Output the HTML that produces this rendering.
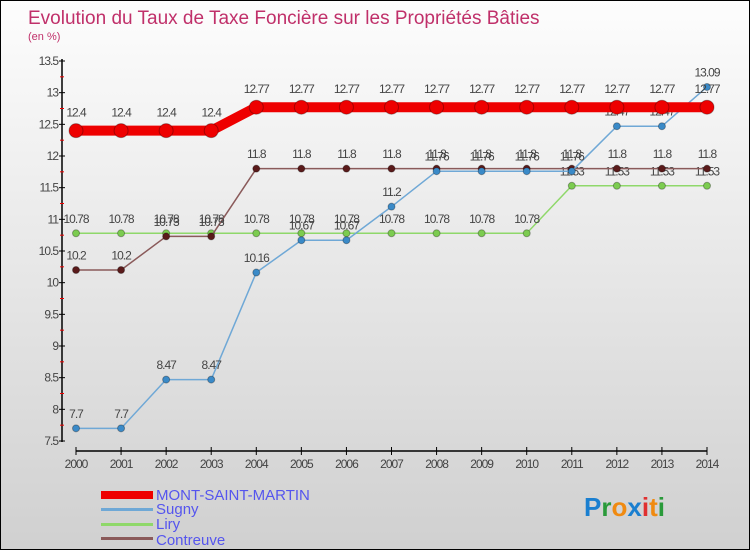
<!DOCTYPE html>
<html><head><meta charset="utf-8"><style>
body{margin:0}
#wrap{width:750px;height:550px;position:relative;overflow:hidden;box-sizing:border-box;border:1px solid #000;background:linear-gradient(#fdfdfd,#d0d0d0);font-family:"Liberation Sans",sans-serif}
</style></head><body>
<div id="wrap">
<svg id="svg" width="750" height="550" style="position:absolute;left:0;top:0">
<text x="27" y="23" font-size="19" fill="#c0306a">Evolution du Taux de Taxe Foncière sur les Propriétés Bâties</text>
<text x="27" y="39" font-size="11" fill="#c0306a">(en %)</text>
<g id="axes"></g><g id="series"></g>
<g>
<rect x="100" y="490" width="52" height="8" fill="#e00"/>
<text x="155" y="499" font-size="15" fill="#5555ee">MONT-SAINT-MARTIN</text>
<rect x="100" y="507" width="52" height="3" fill="#6fa8d6"/>
<text x="155" y="513" font-size="15" fill="#5555ee">Sugny</text>
<rect x="100" y="522" width="52" height="3" fill="#8fd86a"/>
<text x="155" y="528" font-size="15" fill="#5555ee">Liry</text>
<rect x="100" y="536" width="52" height="3" fill="#8a5a5a"/>
<text x="155" y="544" font-size="15" fill="#5555ee">Contreuve</text>
</g>
<text x="583" y="515" font-size="26" font-weight="bold"><tspan fill="#1a7fd0">P</tspan><tspan fill="#2a9a3a">r</tspan><tspan fill="#f08a10">o</tspan><tspan fill="#1a7fd0">x</tspan><tspan fill="#e03030">i</tspan><tspan fill="#f08a10">t</tspan><tspan fill="#2a9a3a">i</tspan></text>
</svg>
</div>
<script>
const years=[2000,2001,2002,2003,2004,2005,2006,2007,2008,2009,2010,2011,2012,2013,2014];
const msm=[12.4,12.4,12.4,12.4,12.77,12.77,12.77,12.77,12.77,12.77,12.77,12.77,12.77,12.77,12.77];
const sugny=[7.7,7.7,8.47,8.47,10.16,10.67,10.67,11.2,11.76,11.76,11.76,11.76,12.47,12.47,13.09];
const liry=[10.78,10.78,10.78,10.78,10.78,10.78,10.78,10.78,10.78,10.78,10.78,11.53,11.53,11.53,11.53];
const contreuve=[10.2,10.2,10.73,10.73,11.8,11.8,11.8,11.8,11.8,11.8,11.8,11.8,11.8,11.8,11.8];
const yTicks=[7.5,8,8.5,9,9.5,10,10.5,11,11.5,12,12.5,13,13.5];
const NS="http://www.w3.org/2000/svg";
const X=i=>75+i*(706-75)/14;
const Y=v=>440-(v-7.5)*(380/6);
function mk(tag,attrs,parent){const e=document.createElementNS(NS,tag);for(const k in attrs)e.setAttribute(k,attrs[k]);parent.appendChild(e);return e;}
const ax=document.getElementById('axes');
let a=mk('line',{x1:61,y1:58,x2:61,y2:441,stroke:'#000','stroke-width':1.5},ax);


a=mk('line',{x1:75,y1:450,x2:706,y2:450,stroke:'#000','stroke-width':1.5},ax);


yTicks.forEach((v,i)=>{
  mk('line',{x1:58,y1:Y(v),x2:64,y2:Y(v),stroke:'#000'},ax);
  if(i<yTicks.length-1)mk('line',{x1:59,y1:Y(v+0.25),x2:63,y2:Y(v+0.25),stroke:'#e00'},ax);
  const t=mk('text',{x:57,y:Y(v)+4,'font-size':12,fill:'#444','text-anchor':'end','letter-spacing':'-1'},ax);
  t.textContent=String(v);
  
  
});
years.forEach((y,i)=>{
  mk('line',{x1:X(i),y1:446,x2:X(i),y2:454,stroke:'#000'},ax);
  const t=mk('text',{x:X(i),y:467,'font-size':12,fill:'#444','text-anchor':'middle','letter-spacing':'-1'},ax);
  t.textContent=y;
  
  
});
const sg=document.getElementById('series');
function draw(vals,name,color,w,r,dot){
  const g=mk('g',{},sg);
  
  
  const p=mk('polyline',{points:vals.map((v,i)=>X(i)+','+Y(v)).join(' '),fill:'none',stroke:color,'stroke-width':w,'stroke-linejoin':'round'},g);
  
  
  vals.forEach((v,i)=>{
    const c=mk('circle',{cx:X(i),cy:Y(v),r:r,fill:dot,stroke:'rgba(0,0,0,0.3)'},g);
    
    
    const t=mk('text',{x:X(i),y:Y(v)-r-7,'font-size':12,fill:'#444','text-anchor':'middle','letter-spacing':'-1'},g);
    t.textContent=String(v);
    
    
  });
}
draw(liry,'liry','#8fd86a',1.5,3.5,'#7ccc50');
draw(contreuve,'contreuve','#8a5a5a',1.5,3.5,'#5a1a1a');
draw(sugny,'sugny','#6fa8d6',1.5,3.5,'#3a8ac8');
draw(msm,'mont-saint-martin','#e00',10,7,'#e00');
</script>
</body></html>
